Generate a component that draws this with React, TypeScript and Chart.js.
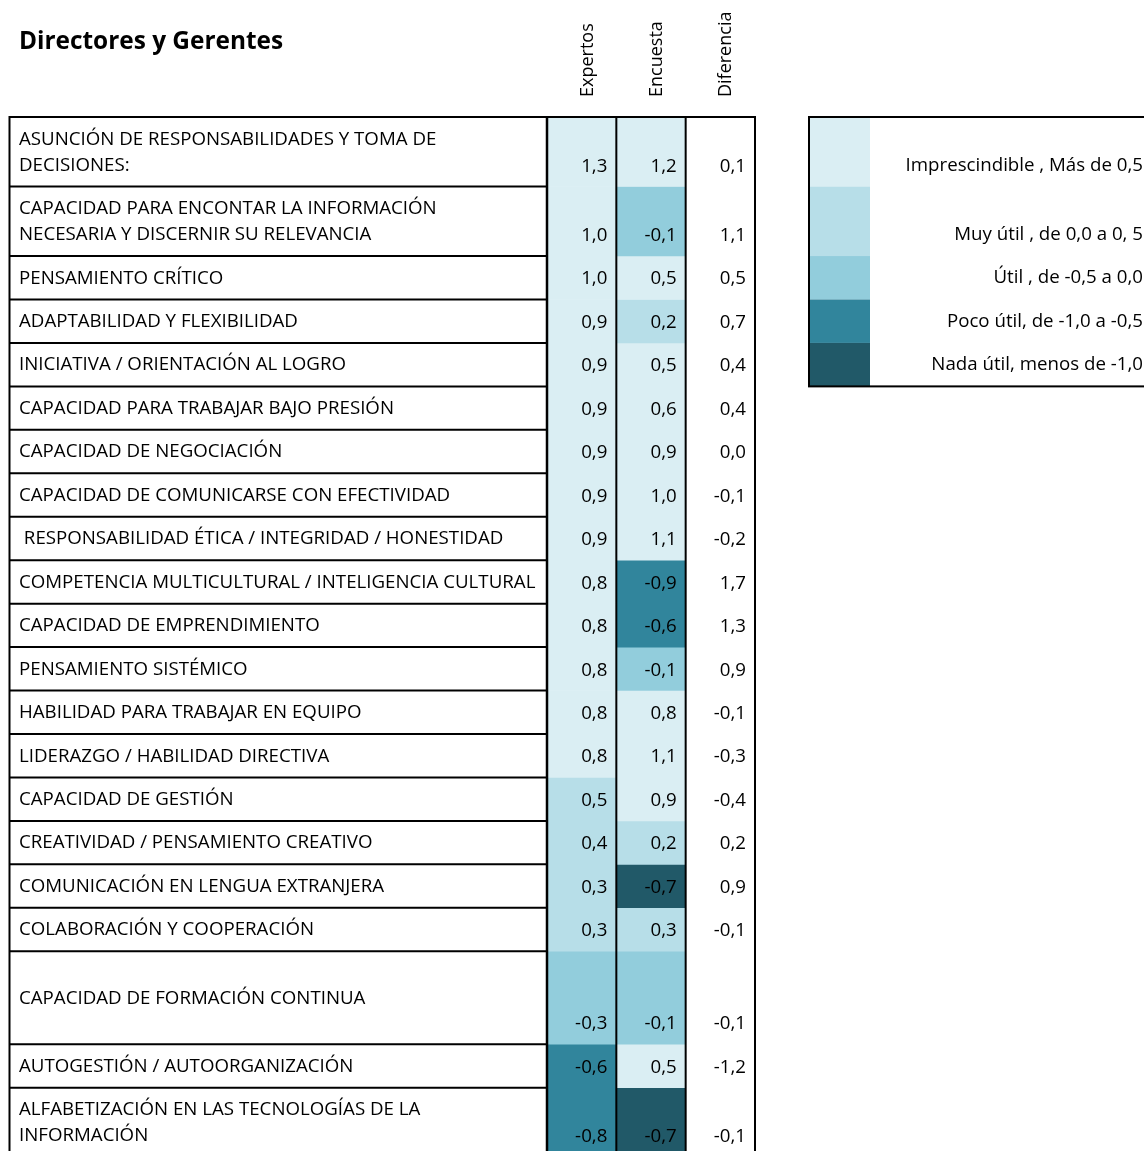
import { useEffect, useRef } from "react";
import { Chart, registerables } from "chart.js";

Chart.register(...registerables);

const title = "Directores y Gerentes";
const columnHeaders = ["Expertos", "Encuesta", "Diferencia"];

const competencias: (string | string[])[] = [
  ["ASUNCIÓN DE RESPONSABILIDADES Y TOMA DE", "DECISIONES:"],
  ["CAPACIDAD PARA ENCONTAR LA INFORMACIÓN", "NECESARIA Y DISCERNIR SU RELEVANCIA"],
  "PENSAMIENTO CRÍTICO",
  "ADAPTABILIDAD Y FLEXIBILIDAD",
  "INICIATIVA / ORIENTACIÓN AL LOGRO",
  "CAPACIDAD PARA TRABAJAR BAJO PRESIÓN",
  "CAPACIDAD DE NEGOCIACIÓN",
  "CAPACIDAD DE COMUNICARSE CON EFECTIVIDAD",
  " RESPONSABILIDAD ÉTICA / INTEGRIDAD / HONESTIDAD",
  "COMPETENCIA MULTICULTURAL / INTELIGENCIA CULTURAL",
  "CAPACIDAD DE EMPRENDIMIENTO",
  "PENSAMIENTO SISTÉMICO",
  "HABILIDAD PARA TRABAJAR EN EQUIPO",
  "LIDERAZGO / HABILIDAD DIRECTIVA",
  "CAPACIDAD DE GESTIÓN",
  "CREATIVIDAD / PENSAMIENTO CREATIVO",
  "COMUNICACIÓN EN LENGUA EXTRANJERA",
  "COLABORACIÓN Y COOPERACIÓN",
  "CAPACIDAD DE FORMACIÓN CONTINUA",
  "AUTOGESTIÓN / AUTOORGANIZACIÓN",
  ["ALFABETIZACIÓN EN LAS TECNOLOGÍAS DE LA", "INFORMACIÓN"],
];

// row heights in "line" units
const rowSpans = [1.6, 1.6, 1, 1, 1, 1, 1, 1, 1, 1, 1, 1, 1, 1, 1, 1, 1, 1, 2.14, 1, 1.6];

const expertos = [1.3, 1.0, 1.0, 0.9, 0.9, 0.9, 0.9, 0.9, 0.9, 0.8, 0.8, 0.8, 0.8, 0.8, 0.5, 0.4, 0.3, 0.3, -0.3, -0.6, -0.8];
const encuesta = [1.2, -0.1, 0.5, 0.2, 0.5, 0.6, 0.9, 1.0, 1.1, -0.9, -0.6, -0.1, 0.8, 1.1, 0.9, 0.2, -0.7, 0.3, -0.1, 0.5, -0.7];
const diferencia = [0.1, 1.1, 0.5, 0.7, 0.4, 0.4, 0.0, -0.1, -0.2, 1.7, 1.3, 0.9, -0.1, -0.3, -0.4, 0.2, 0.9, -0.1, -0.1, -1.2, -0.1];

// level index per cell (0 = Imprescindible ... 4 = Nada útil)
const expertosNivel = [0, 0, 0, 0, 0, 0, 0, 0, 0, 0, 0, 0, 0, 0, 1, 1, 1, 1, 2, 3, 3];
const encuestaNivel = [0, 2, 0, 1, 0, 0, 0, 0, 0, 3, 3, 2, 0, 0, 0, 1, 4, 1, 2, 0, 4];

const niveles = [
  "Imprescindible , Más de 0,5",
  "Muy útil , de 0,0 a 0, 5",
  "Útil , de -0,5 a 0,0",
  "Poco útil, de -1,0 a -0,5",
  "Nada útil, menos de -1,0",
];
const nivelColores = ["#DAEEF3", "#B7DEE8", "#92CDDC", "#31859C", "#215968"];

const W = 1144;
const H = 1160;
const ROW_UNIT = 43.45;
const TOP = 117;
const FONT = '"Open Sans", "Noto Sans", sans-serif';
const TEXT_SIZE = 18.7;

const fmt = (v: number) => v.toFixed(1).replace(".", ",").replace("-0,0", "0,0");

const rowStarts: number[] = [];
const rowEnds: number[] = [];
{
  let acc = 0;
  for (const s of rowSpans) {
    rowStarts.push(acc);
    acc += s;
    rowEnds.push(acc);
  }
}
const total = rowEnds[rowEnds.length - 1];

const tablePlugin = {
  id: "tableDecor",
  afterDatasetsDraw(chart: any) {
    const ctx = chart.ctx as CanvasRenderingContext2D;
    const xs = chart.scales.x;
    const ys = chart.scales.y;
    const half = (xs.getPixelForValue(1) - xs.getPixelForValue(0)) / 2;
    const centers = [0, 1, 2].map((i) => xs.getPixelForValue(i));
    const bounds = [centers[0] - half, centers[0] + half, centers[1] + half, centers[2] + half];
    const yTop = ys.getPixelForValue(0);
    const yBot = ys.getPixelForValue(total);
    const leftX = 9.5;

    ctx.save();
    // title
    ctx.fillStyle = "#000";
    ctx.font = `bold 24.4px ${FONT}`;
    ctx.textAlign = "left";
    ctx.textBaseline = "alphabetic";
    ctx.fillText(title, 19, 49);

    // column headers
    ctx.font = `18px ${FONT}`;
    columnHeaders.forEach((h, i) => {
      ctx.save();
      ctx.translate(centers[i] + 11, 97);
      ctx.rotate(-Math.PI / 2);
      ctx.textAlign = "left";
      ctx.textBaseline = "alphabetic";
      ctx.fillText(h, 0, 0);
      ctx.restore();
    });

    // row labels
    ctx.font = `${TEXT_SIZE}px ${FONT}`;
    competencias.forEach((lab, i) => {
      const y0 = ys.getPixelForValue(rowStarts[i]);
      const y1 = ys.getPixelForValue(rowEnds[i]);
      const mid = (y0 + y1) / 2 + 0.5;
      const lines = Array.isArray(lab) ? lab : [lab];
      ctx.textAlign = "left";
      ctx.textBaseline = "middle";
      lines.forEach((ln, k) => {
        const yy = mid + (k - (lines.length - 1) / 2) * 26;
        ctx.fillText(ln, 19, yy);
      });
    });

    // values
    const cols = [expertos, encuesta, diferencia];
    ctx.textAlign = "right";
    ctx.textBaseline = "alphabetic";
    cols.forEach((arr, c) => {
      arr.forEach((v, i) => {
        const yb = ys.getPixelForValue(rowEnds[i]);
        ctx.fillText(fmt(v), bounds[c + 1] - 9, yb - 15);
      });
    });

    // lines
    ctx.strokeStyle = "#000";
    ctx.lineWidth = 2;
    ctx.beginPath();
    ctx.moveTo(leftX - 1, yTop);
    ctx.lineTo(bounds[3] + 1, yTop);
    rowEnds.forEach((r) => {
      const yy = ys.getPixelForValue(r);
      ctx.moveTo(leftX, yy);
      ctx.lineTo(bounds[0], yy);
    });
    ctx.moveTo(leftX, yTop);
    ctx.lineTo(leftX, yBot);
    bounds.forEach((b) => {
      ctx.moveTo(b, yTop);
      ctx.lineTo(b, yBot);
    });
    ctx.stroke();
    ctx.lineWidth = 2.5;
    ctx.beginPath();
    ctx.moveTo(bounds[0], yTop);
    ctx.lineTo(bounds[0], yBot);
    ctx.stroke();

    // legend
    const lgLeft = 810;
    const swW = 60;
    const lgTop = ys.getPixelForValue(rowStarts[0]);
    const lgBot = ys.getPixelForValue(rowEnds[niveles.length - 1]);
    niveles.forEach((n, i) => {
      const y0 = ys.getPixelForValue(rowStarts[i]);
      const y1 = ys.getPixelForValue(rowEnds[i]);
      ctx.fillStyle = nivelColores[i];
      ctx.fillRect(lgLeft, y0, swW, y1 - y0);
      ctx.fillStyle = "#000";
      ctx.font = `${TEXT_SIZE}px ${FONT}`;
      ctx.textAlign = "right";
      ctx.textBaseline = "alphabetic";
      ctx.fillText(n, 1143, y1 - 16);
    });
    ctx.strokeStyle = "#000";
    ctx.lineWidth = 2;
    ctx.strokeRect(lgLeft - 1, lgTop, W + 10 - lgLeft, lgBot - lgTop);
    ctx.restore();
  },
};

export default function App() {
  const ref = useRef<HTMLCanvasElement | null>(null);
  useEffect(() => {
    if (!ref.current) return;
    const datasets = competencias.map((_, i) => ({
      label: `row${i}`,
      data: [
        [rowStarts[i], rowEnds[i]],
        [rowStarts[i], rowEnds[i]],
        [rowStarts[i], rowEnds[i]],
      ] as any,
      backgroundColor: [nivelColores[expertosNivel[i]], nivelColores[encuestaNivel[i]], "#FFFFFF"],
      borderWidth: 0,
      borderSkipped: false,
      grouped: false,
      barPercentage: 1,
      categoryPercentage: 1,
    }));
    const chart = new Chart(ref.current, {
      type: "bar",
      data: { labels: columnHeaders, datasets },
      options: {
        animation: false,
        responsive: false,
        maintainAspectRatio: false,
        devicePixelRatio: 1,
        layout: {
          padding: {
            left: 547,
            right: W - 755,
            top: TOP,
            bottom: H - TOP - total * ROW_UNIT,
          },
        },
        plugins: { legend: { display: false }, tooltip: { enabled: false } },
        scales: {
          x: { type: "category", display: false, offset: true },
          y: { type: "linear", display: false, min: 0, max: total, reverse: true },
        },
      },
      plugins: [tablePlugin],
    });
    return () => chart.destroy();
  }, []);
  return (
    <div style={{ position: "fixed", left: 0, top: 0, width: W, height: 1151, overflow: "hidden", background: "#fff" }}>
      <canvas ref={ref} width={W} height={H} style={{ display: "block" }} />
    </div>
  );
}
